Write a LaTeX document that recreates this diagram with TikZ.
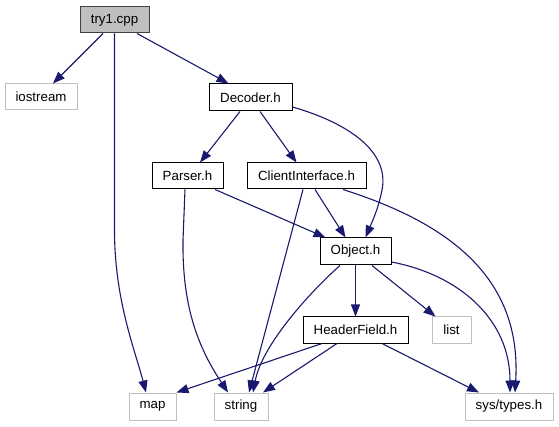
\documentclass[tikz,border=0pt]{standalone}
\usepackage{fontspec}
\setmainfont{Liberation Sans}
\usetikzlibrary{arrows.meta}
\definecolor{edgecol}{HTML}{191970}
\definecolor{extcol}{HTML}{BFBFBF}
\definecolor{rootfill}{HTML}{BFBFBF}
\begin{document}
\begin{tikzpicture}[x=1pt,y=-1pt,
  box/.style={draw=black,line width=1pt,fill=white,inner sep=0pt,minimum height=26pt,font=\fontsize{13.3}{16}\selectfont},
  extbox/.style={box,draw=extcol},
  rootbox/.style={box,fill=rootfill,draw=black!75},
  edge/.style={draw=edgecol,line width=1.1pt,-{Triangle[length=12pt,width=9pt]}}]
\useasboundingbox[fill=white] (0,0) rectangle (559,427);
\node[rootbox,minimum width=69pt] (try) at (114.5,20) {try1.cpp};
\node[extbox,minimum width=72pt] (ios) at (41,97) {iostream};
\node[box,minimum width=83pt,minimum height=27pt] (dec) at (250.5,97.5) {Decoder.h};
\node[box,minimum width=71pt] (par) at (187.5,176) {Parser.h};
\node[box,minimum width=119pt] (cli) at (306.5,176) {ClientInterface.h};
\node[box,minimum width=71pt,minimum height=27pt] (obj) at (355.5,251.5) {Object.h};
\node[box,minimum width=105pt] (hdr) at (355.5,330) {HeaderField.h};
\node[extbox,minimum width=39pt] (lst) at (451.5,330) {list};
\node[extbox,minimum width=47pt,minimum height=27pt] (map) at (152.5,406.5) {map};
\node[extbox,minimum width=54pt,minimum height=27pt] (str) at (241,406.5) {string};
\node[extbox,minimum width=88pt,minimum height=27pt] (sys) at (509,406.5) {sys/types.h};
% try1.cpp
\draw[edge] ([xshift=-11.5]try.south) -- ([xshift=12]ios.north);
\draw[edge] ([xshift=22.5]try.south) -- ([xshift=-22]dec.north);
\draw[edge] (try.south) -- (114.5,230) .. controls (114.5,300) and (135,350) .. ([xshift=-6.5]map.north);
% Decoder.h
\draw[edge] ([xshift=-10.5]dec.south) -- ([xshift=12.5]par.north);
\draw[edge] ([xshift=9.5]dec.south) -- ([xshift=-10]cli.north);
\draw[edge] ([yshift=-9.5]dec.east) .. controls (345,122) and (390,150) .. (382,190) .. controls (378,210) and (372,222) .. ([xshift=10]obj.north);
% Parser.h
\draw[edge] ([xshift=-2.5]par.south) -- (183,240) .. controls (182,310) and (200,350) .. ([xshift=-13]str.north);
\draw[edge] ([xshift=27.5]par.south) -- ([xshift=-30]obj.north);
% ClientInterface.h
\draw[edge] ([xshift=-3.5]cli.south) -- ([xshift=8]str.north);
\draw[edge] ([xshift=8.5]cli.south) -- ([xshift=-10]obj.north);
\draw[edge] ([xshift=36.5]cli.south) .. controls (445,222) and (522,275) .. ([xshift=6]sys.north);
% Object.h
\draw[edge] ([xshift=-15.5]obj.south) .. controls (310,292) and (262,345) .. ([xshift=12]str.north);
\draw[edge] (obj.south) -- (hdr.north);
\draw[edge] ([xshift=16.5]obj.south) -- ([xshift=-16]lst.north);
\draw[edge] ([yshift=-10.5]obj.east) .. controls (460,275) and (510,320) .. ([xshift=1]sys.north);
% HeaderField.h
\draw[edge] ([xshift=-33.5]hdr.south) -- (map.north east);
\draw[edge] ([xshift=-18.5]hdr.south) -- ([xshift=22]str.north);
\draw[edge] ([xshift=26.5]hdr.south) -- ([xshift=-30]sys.north);
\end{tikzpicture}
\end{document}
